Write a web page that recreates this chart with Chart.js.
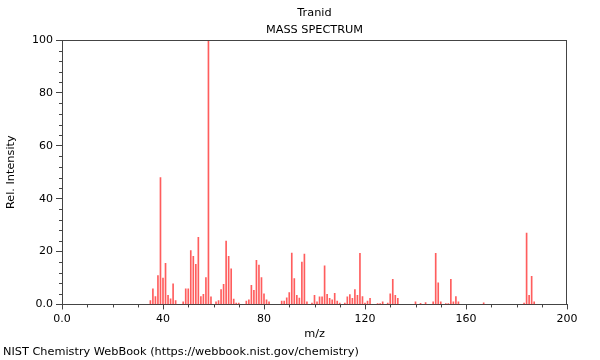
<!DOCTYPE html>
<html>
<head>
<meta charset="utf-8">
<script src="https://cdn.jsdelivr.net/npm/chart.js@4.4.1/dist/chart.umd.min.js"></script>
<style>
  body { margin: 0; background: #fff; }
  #wrap { width: 600px; height: 360px; }
</style>
</head>
<body>
<div id="wrap"><canvas id="msChart" width="600" height="360"></canvas></div>
<script>
// peaks (m/z and relative intensity)
let mzValues = [35, 36, 37, 38, 39, 40, 41, 42, 43, 44, 45, 48, 49, 50, 51, 52, 53, 54, 55, 56,
    57, 58, 59, 61, 62, 63, 64, 65, 66, 67, 68, 69, 70, 73, 74, 75, 76, 77, 78, 79,
    80, 81, 82, 87, 88, 89, 90, 91, 92, 93, 94, 95, 96, 97, 99, 100, 101, 102, 103, 104,
    105, 106, 107, 108, 109, 110, 112, 113, 114, 115, 116, 117, 118, 119, 120, 121, 122, 125, 126, 127,
    129, 130, 131, 132, 133, 140, 142, 144, 147, 148, 149, 150, 152, 153, 154, 155, 156, 157, 167, 183,
    184, 185, 186, 187];
let intensities = [1.5, 5.9, 3, 10.9, 48, 10, 15.5, 3.4, 2.1, 7.8, 1.5, 1, 5.9, 5.9, 20.4, 18.2, 15.2, 25.4, 3, 3.8,
    10.2, 100, 2.9, 1, 1.5, 5.6, 7.6, 24, 18.2, 13.5, 2, 0.5, 0.5, 1.3, 1.7, 7.2, 5.3, 16.7, 14.9, 10.2,
    4, 1.7, 1, 1.3, 1.3, 2.5, 4.5, 19.4, 9.8, 3.4, 2.4, 16, 19, 1, 0.5, 3.4, 1, 2.9, 2.9, 14.6,
    3.8, 2.3, 1.7, 4.2, 1.3, 0.5, 0.5, 2.9, 3.7, 2.3, 5.6, 3.4, 19.3, 3, 0.5, 1.3, 2.3, 0.3, 0.3, 1,
    0.5, 4, 9.5, 3.4, 2.3, 1, 0.4, 0.7, 1, 19.3, 8.2, 1, 0.3, 0.3, 9.5, 1, 3, 1, 0.6, 0.5,
    27, 3.4, 10.6, 1];

let xTicks = [0, 40, 80, 120, 160, 200];
let yTicks = [0, 20, 40, 60, 80, 100];

let frameColor = "#444";
let textFont = { family: "'DejaVu Sans', sans-serif", size: 11.3 };
let tickFont = { family: "'DejaVu Sans', sans-serif", size: 11 };

let peaks = mzValues.map((mz, i) => ({ x: mz, y: intensities[i] }));

// short minor ticks and the top/right edges of the frame
const frameAndMinorTicks = {
    id: "frameAndMinorTicks",
    afterDraw(chart) {
        let ctx = chart.ctx;
        let area = chart.chartArea;
        let xs = chart.scales.x;
        let ys = chart.scales.y;
        ctx.save();
        ctx.strokeStyle = frameColor;
        ctx.lineWidth = 1;
        ctx.beginPath();
        ctx.moveTo(area.left, area.top + 0.5);
        ctx.lineTo(area.right, area.top + 0.5);
        ctx.moveTo(area.right - 0.5, area.top);
        ctx.lineTo(area.right - 0.5, area.bottom);
        for (let v = 10; v < 200; v += 10) {
            if (v % 40 === 0) continue;
            let px = Math.round(xs.getPixelForValue(v)) + 0.5;
            ctx.moveTo(px, area.bottom);
            ctx.lineTo(px, area.bottom + 3);
        }
        for (let v = 4; v < 100; v += 4) {
            if (v % 20 === 0) continue;
            let py = Math.round(ys.getPixelForValue(v)) + 0.5;
            ctx.moveTo(area.left, py);
            ctx.lineTo(area.left - 3, py);
        }
        ctx.stroke();
        ctx.restore();
    }
};

let ctx = document.getElementById("msChart").getContext("2d");

new Chart(ctx, {
    type: "bar",
    data: {
        datasets: [{
            data: peaks,
            backgroundColor: "rgba(255, 30, 30, 0.72)",
            borderWidth: 0,
            barThickness: 1
        }]
    },
    options: {
        responsive: false,
        animation: false,
        devicePixelRatio: 1,
        layout: { padding: { left: 3, right: 33, top: 0, bottom: 0 } },
        plugins: {
            legend: { display: false },
            tooltip: { enabled: false },
            subtitle: {
                display: true,
                text: "NIST Chemistry WebBook (https://webbook.nist.gov/chemistry)",
                position: "bottom",
                align: "start",
                color: "#000",
                font: textFont,
                padding: { top: 1, bottom: 1 }
            }
        },
        scales: {
            x: {
                type: "linear",
                position: "bottom",
                min: 0,
                max: 200,
                offset: false,
                afterBuildTicks: (scale) => { scale.ticks = xTicks.map(v => ({ value: v })); },
                ticks: {
                    color: "#000",
                    font: tickFont,
                    padding: 3,
                    maxRotation: 0,
                    autoSkip: false,
                    callback: (v) => v === 0 ? "0.0" : v
                },
                grid: { drawOnChartArea: false, tickLength: 5, tickColor: frameColor, offset: false },
                border: { color: frameColor },
                title: { display: true, text: "m/z", color: "#000", font: textFont, padding: { top: 0, bottom: 4 } },
                afterFit: (scale) => { scale.height = 40; }
            },
            top: {
                type: "linear",
                axis: "x",
                position: "top",
                min: 0,
                max: 200,
                ticks: { display: false },
                grid: { display: false },
                border: { display: false },
                title: {
                    display: true,
                    text: ["Tranid", "MASS SPECTRUM"],
                    color: "#000",
                    font: { family: textFont.family, size: 11.3, lineHeight: 17 / 11.3 },
                    padding: { top: 4.5, bottom: 0 }
                },
                afterFit: (scale) => { scale.height = 40; }
            },
            y: {
                min: 0,
                max: 100,
                afterBuildTicks: (scale) => { scale.ticks = yTicks.map(v => ({ value: v })); },
                ticks: {
                    color: "#000",
                    font: tickFont,
                    padding: 3,
                    callback: (v) => v === 0 ? "0.0" : v
                },
                grid: { drawOnChartArea: false, tickLength: 6, tickColor: frameColor },
                border: { color: frameColor },
                title: { display: true, text: "Rel. Intensity", color: "#000", font: textFont, padding: { top: 1, bottom: 0 } },
                afterFit: (scale) => { scale.width = 59; }
            }
        }
    },
    plugins: [frameAndMinorTicks]
});
</script>
</body>
</html>
